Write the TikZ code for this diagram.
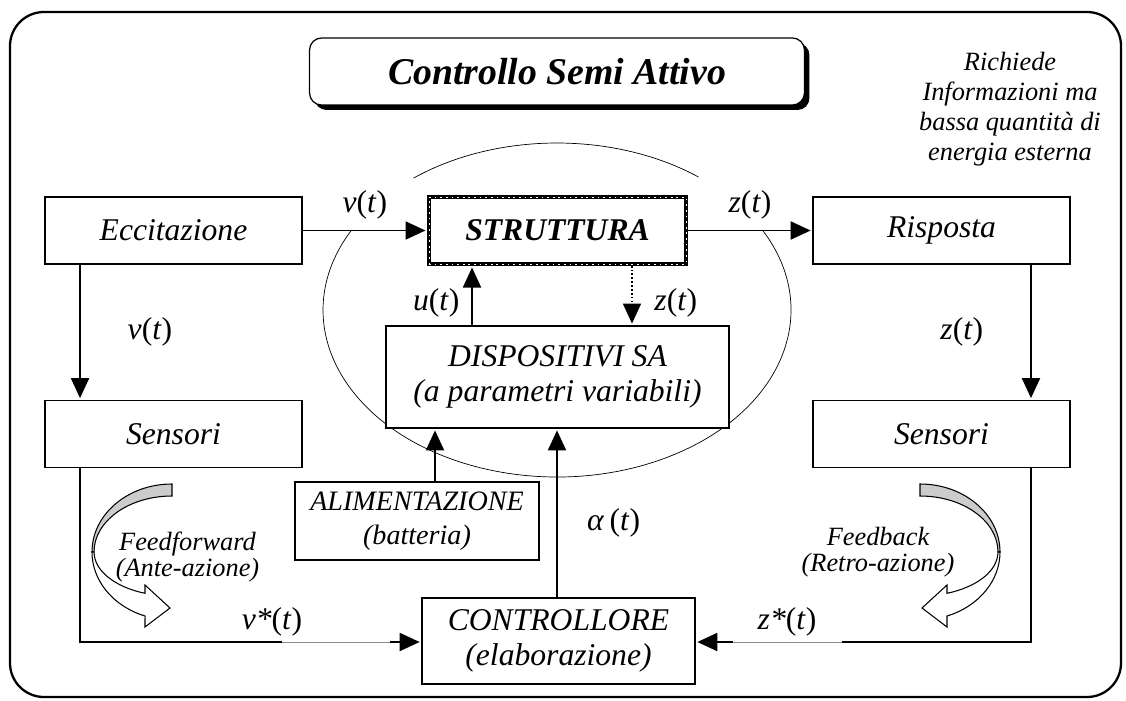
\documentclass[tikz,border=0pt]{standalone}
\usepackage{fontspec}
\setmainfont{Liberation Serif}
\usetikzlibrary{arrows.meta, positioning, calc, shadows}
\tikzset{
  block/.style={draw, line width=0.7pt, fill=white, align=center, inner sep=0pt, minimum width=5.14cm, minimum height=1.34cm, font=\fontsize{18}{20}\selectfont\itshape},
  strbox/.style={line width=2pt, font=\fontsize{18}{20}\selectfont\bfseries\itshape, postaction={draw=white, line width=0.5pt, dash pattern=on 1pt off 2.2pt}},
  titlebox/.style={draw, line width=0.7pt, fill=white, rounded corners=0.24cm, minimum width=9.9cm, minimum height=1.34cm, font=\fontsize{21.5}{24}\selectfont\bfseries\itshape, drop shadow={shadow xshift=0.1cm, shadow yshift=-0.1cm, fill=black, opacity=1}},
  arrow/.style={-{Triangle[length=0.4cm, width=0.36cm]}, line width=1.1pt, shorten >=1pt},
  link/.style={line width=1.1pt},
  thinlink/.style={line width=0.4pt, black!45},
  sig/.style={font=\fontsize{18}{20}\selectfont, inner sep=1pt},
  note/.style={align=center, font=\fontsize{15}{15}\selectfont\itshape},
  orbit/.style={line width=0.4pt},
  frame/.style={line width=1.3pt, rounded corners=0.68cm},
  pics/turn/.style={code={
    \filldraw[fill=black!20, line width=0.6pt] (0,-68) arc[start angle=-90, end angle=-180, x radius=80, y radius=68]
      -- (-78,0) arc[start angle=180, end angle=270, x radius=78, y radius=56] -- cycle;
    \filldraw[fill=white, line width=0.6pt] (-80,0) arc[start angle=180, end angle=109.7, x radius=80, y radius=68]
      -- (-27,75) -- (-2,56) -- (-27,33) -- (-27,41.3)
      arc[start angle=110.3, end angle=180, x radius=78, y radius=44] -- cycle;
  }}
}
\begin{document}
\begin{tikzpicture}[x=0.02cm, y=-0.02cm]
    \useasboundingbox (0,0) rectangle (1126,700);
    \draw[frame] (10,12) rectangle (1121,697);

    % title and remark
    \node[titlebox] (title) at (557,71.5) {Controllo Semi Attivo};
    \node[note, anchor=north, font=\fontsize{15}{17}\selectfont\itshape] (info) at (1010,46) {Richiede\\Informazioni ma\\bassa quantità di\\energia esterna};

    % device region
    \draw[orbit] (557,310) ++(-127.8:234 and 167) arc[start angle=-127.8, end angle=-52.8, x radius=234, y radius=167];
    \draw[orbit] (557,310) ++(-28.6:234 and 167) arc[start angle=-28.6, end angle=208.6, x radius=234, y radius=167];

    \node[block] (ecc) at (173.5,230.5) {Eccitazione};
    \node[block, strbox] (str) at (557.5,230.5) {STRUTTURA};
    \node[block] (ris) at (941.5,230.5) {Risposta};
    \node[block] (sensL) at (173.5,434) {Sensori};
    \node[block] (sensR) at (941.5,434) {Sensori};
    \node[block, minimum width=6.86cm, minimum height=2.04cm] (disp) at (557.5,377) {DISPOSITIVI SA\\(a parametri variabili)};
    \node[block, minimum width=4.88cm, minimum height=1.56cm, font=\fontsize{16}{19}\selectfont\itshape] (alim) at (417,521) {ALIMENTAZIONE\\(batteria)};
    \node[block, minimum width=5.46cm, minimum height=1.72cm] (ctrl) at (558.5,641) {CONTROLLORE\\(elaborazione)};

    \draw[arrow] (ecc) -- node[sig, above=0.18cm] {\textit{v}(\textit{t})} (str);
    \draw[arrow] (str) -- node[sig, above=0.18cm] {\textit{z}(\textit{t})} (ris);
    \draw[arrow] ([xshift=-1.87cm]ecc.south) -- node[sig, right=0.9cm] {\textit{v}(\textit{t})} ([xshift=-1.87cm]sensL.north);
    \draw[arrow] ([xshift=1.79cm]ris.south) -- node[sig, left=0.9cm] {\textit{z}(\textit{t})} ([xshift=1.79cm]sensR.north);
    \draw[arrow] ([xshift=-1.71cm]disp.north) -- node[sig, left=0.2cm, pos=0.37] {\textit{u}(\textit{t})} ([xshift=-1.71cm]str.south);
    \draw[arrow, line width=0.8pt, dash pattern=on 1pt off 1.2pt] ([xshift=1.49cm]str.south) -- node[sig, right=0.4cm, pos=0.63] {\textit{z}(\textit{t})} ([xshift=1.49cm]disp.north);
    \draw[arrow] ([xshift=0.36cm]alim.north) -- ([xshift=0.36cm]alim.north |- disp.south);
    \draw[arrow] ([xshift=-0.03cm]ctrl.north) -- node[sig, right=0.55cm, pos=0.44] {\textit{α}\,(\textit{t})} ([xshift=-0.03cm]ctrl.north |- disp.south);

    % feedforward and feedback branches
    \coordinate (fL) at (282,642);
    \coordinate (gL) at (390,642);
    \coordinate (fR) at (842,642);
    \coordinate (gR) at (733,642);
    \draw[link] ([xshift=-1.87cm]sensL.south) |- (fL);
    \draw[thinlink] (fL) -- (gL);
    \draw[arrow] (gL) -- (gL -| ctrl.west);
    \draw[link] ([xshift=1.79cm]sensR.south) |- (fR);
    \draw[thinlink] (fR) -- (gR);
    \draw[arrow] (gR) -- (gR -| ctrl.east);
    \node[sig] (vstar) at (272,622) {\textit{v*}(\textit{t})};
    \node[sig] (zstar) at (787,622) {\textit{z*}(\textit{t})};

    \pic at (172,552) {turn};
    \pic[xscale=-1] at (920,552) {turn};
    \node[note] (ff) at (187.5,557) {Feedforward\\(Ante-azione)};
    \node[note] (fb) at (878,552) {Feedback\\(Retro-azione)};
\end{tikzpicture}
\end{document}
